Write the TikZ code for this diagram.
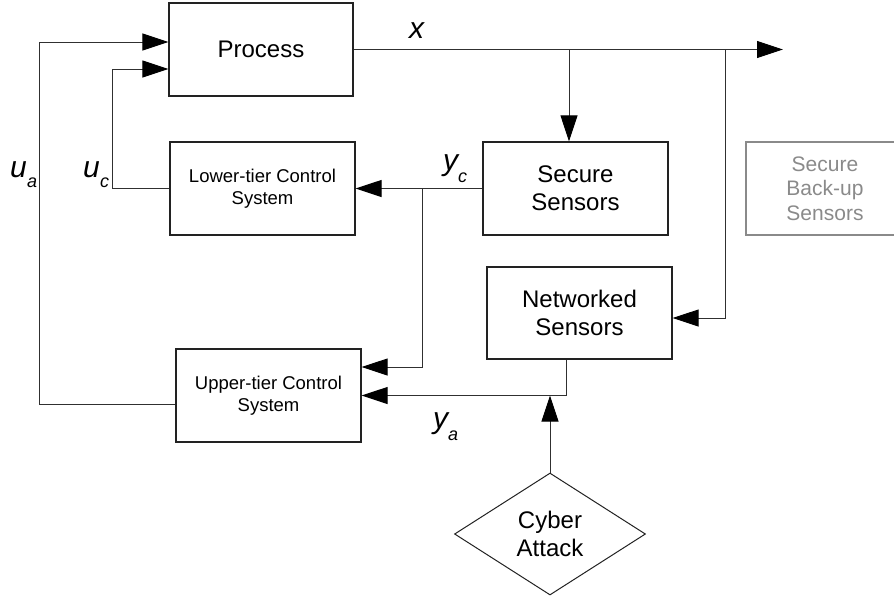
\documentclass[tikz,border=0pt]{standalone}
\usepackage{fontspec}
\setmainfont{Liberation Sans}
\usetikzlibrary{arrows.meta,shapes.geometric}
\definecolor{boxline}{HTML}{222222}
\definecolor{wire}{HTML}{303030}
\definecolor{faded}{HTML}{8A8A8A}
\tikzset{
  blk/.style={draw=boxline, line width=1.3pt, inner sep=0pt, align=center,
    minimum width=185pt, minimum height=93pt},
  bigtext/.style={font=\fontsize{24}{28}\selectfont},
  smalltext/.style={font=\fontsize{18.5}{22}\selectfont},
  wireline/.style={draw=wire, line width=1pt},
  flow/.style={wireline, -{Triangle[length=26pt,width=17pt,color=black]}},
  sym/.style={inner sep=0pt, anchor=base west, font=\fontsize{30}{30}\selectfont\itshape},
  subsym/.style={inner sep=0pt, anchor=base west, font=\fontsize{18}{18}\selectfont\itshape}
}
\begin{document}
\begin{tikzpicture}[x=1pt, y=-1pt]
\useasboundingbox (0,0) rectangle (894,600);

% blocks
\node[blk, bigtext, minimum width=184pt] (process) at (261,49.5) {Process};
\node[blk, smalltext] (lower) at (262.5,188.5) {Lower-tier Control\\System};
\node[blk, bigtext] (secure) at (575.5,188.5) {Secure\\Sensors};
\node[align=center, text=faded, inner sep=0pt,
  font=\fontsize{21}{24.5}\selectfont] (backup) at (825,188.5) {Secure\\Back-up\\Sensors};
\draw[draw=faded, line width=1.2pt] (746,142) rectangle (930,235);
\node[blk, bigtext, minimum height=92pt] (network) at (579.5,313) {Networked\\Sensors};
\node[blk, smalltext] (upper) at (268.5,395.5) {Upper-tier Control\\System};
\node[draw=boxline, line width=1pt, shape=diamond, aspect=1.566, inner sep=0pt,
  minimum width=191pt, minimum height=122pt, bigtext, align=center] (attack) at (550,534) {Cyber\\Attack};

% junction and end points
\coordinate (xout) at (783,49.5);
\coordinate (xsplitA) at (569,49.5);
\coordinate (xsplitB) at (725,49.5);
\coordinate (ycsplit) at (422,188.5);
\coordinate (yajoin) at (550,395.5);

% state output x and its branches
\draw[flow] (process.east) -- (xout);
\draw[flow] (xsplitA) -- ([xshift=-6.5pt]secure.north);
\draw[flow] (xsplitB) |- ([yshift=-5pt]network.east);

% y_c to both controllers
\draw[flow] (secure.west) -- (lower.east);
\draw[flow] (ycsplit) |- ([yshift=28.5pt]upper.east);

% y_a from networked sensors
\draw[flow] ([xshift=-13.5pt]network.south) |- (upper.east);
\draw[flow] (attack.north) -- (yajoin);

% control inputs
\draw[flow] (lower.west) -| (112,69) -- ([yshift=-19.5pt]process.west);
\draw[flow] ([yshift=-8.5pt]upper.west) -| (39,42) -- ([yshift=7.5pt]process.west);

% signal labels
\node[sym] (lx) at (409,38) {x};
\node[sym] (lua) at (10,177) {u};
\node[subsym] (lua2) at (27,187) {a};
\node[sym] (luc) at (83,177) {u};
\node[subsym] (luc2) at (100,187) {c};
\node[sym] (lyc) at (443,170) {y};
\node[subsym] (lyc2) at (458,182) {c};
\node[sym] (lya) at (433,428) {y};
\node[subsym] (lya2) at (448,440) {a};
\end{tikzpicture}
\end{document}
